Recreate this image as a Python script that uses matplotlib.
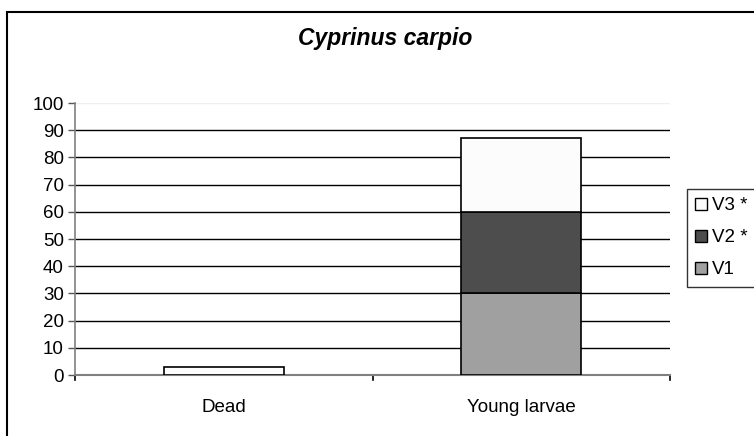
import matplotlib
matplotlib.use("Agg")
import matplotlib.pyplot as plt
from matplotlib.patches import Rectangle, Patch

categories = ["Dead", "Young larvae"]
v1 = [0, 30]
v2 = [0, 30]
v3 = [3, 27]
series_names = ["V1", "V2 *", "V3 *"]
yticks = [0, 10, 20, 30, 40, 50, 60, 70, 80, 90, 100]

plt.rcParams['font.family'] = ['Liberation Sans', 'DejaVu Sans']

W, H = 754, 436
fig = plt.figure(figsize=(W / 100, H / 100), dpi=100)
ax = fig.add_axes([75 / W, 61 / H, 595 / W, 272 / H])

colors = ["#a0a0a0", "#4d4d4d", "#fcfcfc"]
x = list(range(len(categories)))
bottom = [0] * len(categories)
for vals, c in zip([v1, v2, v3], colors):
    ax.bar(x, vals, width=0.403, bottom=bottom, color=c, edgecolor="black",
           linewidth=1.2, zorder=3)
    bottom = [b + v for b, v in zip(bottom, vals)]

ax.set_xlim(-0.5, 1.5)
ax.set_ylim(0, 100)
ax.set_yticks(yticks)
ax.set_yticklabels([str(t) for t in yticks], fontsize=13.5)
for t in yticks[1:-1]:
    ax.axhline(t, color="black", lw=1, zorder=1)
ax.axhline(100, color="#eeeeee", lw=1, zorder=1)

ax.set_xticks([0, 1])
ax.set_xticklabels(categories, fontsize=13.5)
ax.tick_params(axis="x", length=0, pad=17)
for xb in [-0.5, 0.5, 1.5]:
    ax.plot([xb, xb], [0, -0.02], transform=ax.get_xaxis_transform(),
            color="black", lw=1.2, clip_on=False)
ax.tick_params(axis="y", length=5, width=1, color="#555555", pad=3)

for s in ["top", "right"]:
    ax.spines[s].set_visible(False)
ax.spines["left"].set_color("#808080")
ax.spines["bottom"].set_color("#808080")
ax.spines["bottom"].set_linewidth(1.5)
ax.spines["left"].set_linewidth(1.2)

fig.text(385 / W, 1 - 38 / H, "Cyprinus carpio", ha="center", va="center",
         fontsize=16.5, fontweight="bold", fontstyle="italic")

handles = [Patch(facecolor=colors[2], edgecolor="black", label=series_names[2]),
           Patch(facecolor=colors[1], edgecolor="black", label=series_names[1]),
           Patch(facecolor=colors[0], edgecolor="black", label=series_names[0])]
leg = fig.legend(handles=handles, loc="upper left",
                 bbox_to_anchor=(687 / W, 1 - 189 / H), fontsize=13.5,
                 frameon=True, fancybox=False, handlelength=0.6,
                 handleheight=0.6, handletextpad=0.3, borderpad=0.45,
                 labelspacing=0.8, borderaxespad=0)
leg.get_frame().set_edgecolor("black")
leg.get_frame().set_linewidth(1)

fig.patches.append(Rectangle((7 / W, -0.01), 1.0, 1 - 12 / H + 0.01,
                             transform=fig.transFigure, fill=False,
                             edgecolor="black", lw=1.5))

fig.savefig("out.png", dpi=100)
